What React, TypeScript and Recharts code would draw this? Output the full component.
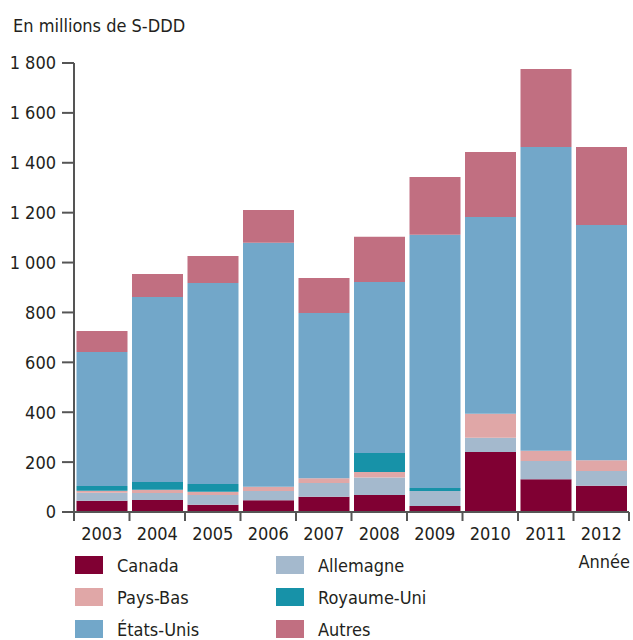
import React from 'react';
import { BarChart, Bar, XAxis, YAxis } from 'recharts';

const years = ['2003', '2004', '2005', '2006', '2007', '2008', '2009', '2010', '2011', '2012'];
const canada = [45, 48, 29, 47, 61, 68, 24, 241, 131, 105];
const allemagne = [32, 28, 39, 37, 55, 70, 60, 57, 73, 59];
const paysBas = [8, 13, 13, 17, 19, 22, 0, 96, 42, 43];
const royaumeUni = [19, 31, 31, 0, 0, 77, 12, 0, 0, 0];
const etatsUnis = [537, 742, 806, 978, 663, 685, 1015, 789, 1217, 944];
const autres = [85, 92, 108, 132, 140, 181, 232, 260, 313, 312];
const yTicks = [0, 200, 400, 600, 800, 1000, 1200, 1400, 1600, 1800];

const FONT = '"Liberation Sans Narrow", "DejaVu Sans Condensed", "Roboto", sans-serif';
const TEXT = '#231f20';
const AXIS = '#555555';
const FS = 18;

const series = [
  { key: 'canada', name: 'Canada', color: '#800033' },
  { key: 'allemagne', name: 'Allemagne', color: '#a4b9cd' },
  { key: 'paysBas', name: 'Pays-Bas', color: '#e0a7a7' },
  { key: 'royaumeUni', name: 'Royaume-Uni', color: '#1792a8' },
  { key: 'etatsUnis', name: 'États-Unis', color: '#72a7c9' },
  { key: 'autres', name: 'Autres', color: '#c16f81' },
];

// legend is filled column by column
const legendOrder = [
  ['canada', 'paysBas', 'etatsUnis'],
  ['allemagne', 'royaumeUni', 'autres'],
];

const data = years.map((year, i) => ({
  year,
  canada: canada[i],
  allemagne: allemagne[i],
  paysBas: paysBas[i],
  royaumeUni: royaumeUni[i],
  etatsUnis: etatsUnis[i],
  autres: autres[i],
}));

const W = 633;
const H = 640;
const margin = { top: 63, right: 4, bottom: 98, left: 8 };
const yAxisWidth = 66;
const band = (W - margin.left - margin.right - yAxisWidth) / years.length;

const formatThousands = (v: number) =>
  v >= 1000 ? `${Math.floor(v / 1000)} ${String(v % 1000).padStart(3, '0')}` : String(v);

const YearTick = (props: any) => {
  const { x, y, payload, index } = props;
  return (
    <g>
      <line x1={x - band / 2} x2={x - band / 2} y1={y} y2={y + 9} stroke={AXIS} strokeWidth={2} />
      {index === years.length - 1 && (
        <line x1={x + band / 2} x2={x + band / 2} y1={y} y2={y + 9} stroke={AXIS} strokeWidth={2} />
      )}
      <text x={x} y={y + 28} textAnchor="middle" fontSize={FS} fill={TEXT} fontFamily={FONT}>
        {payload.value}
      </text>
    </g>
  );
};

const LegendBox = () => (
  <div style={{ position: 'absolute', left: 75, top: 549, display: 'flex', fontFamily: FONT, fontSize: FS, color: TEXT }}>
    {legendOrder.map((col, ci) => (
      <div key={ci} style={{ width: 201 }}>
        {col.map((k) => {
          const s = series.find((it) => it.key === k)!;
          return (
            <div key={k} style={{ display: 'flex', alignItems: 'center', height: 32 }}>
              <span style={{ display: 'inline-block', width: 28, height: 18, background: s.color, marginRight: 14 }} />
              <span>{s.name}</span>
            </div>
          );
        })}
      </div>
    ))}
  </div>
);

export default function App() {
  return (
    <div style={{ position: 'absolute', left: 0, top: 0, width: W, height: H, background: '#fff' }}>
      <div style={{ position: 'absolute', left: 13, top: 15, fontFamily: FONT, fontSize: FS, color: TEXT }}>
        En millions de S-DDD
      </div>
      <BarChart width={W} height={H} data={data} margin={margin} barCategoryGap={2.5}>
        <XAxis
          dataKey="year"
          height={30}
          tick={<YearTick />}
          tickLine={false}
          tickSize={0}
          tickMargin={0}
          interval={0}
          axisLine={{ stroke: AXIS, strokeWidth: 2 }}
        />
        <YAxis
          width={yAxisWidth}
          domain={[0, 1800]}
          ticks={yTicks}
          interval={0}
          tickFormatter={formatThousands}
          tickSize={12}
          tickMargin={6}
          tick={{ fontSize: FS, fill: TEXT, fontFamily: FONT }}
          tickLine={{ stroke: AXIS, strokeWidth: 2 }}
          axisLine={{ stroke: AXIS, strokeWidth: 2 }}
        />
        {series.map((s) => (
          <Bar key={s.key} dataKey={s.key} name={s.name} stackId="a" fill={s.color} isAnimationActive={false} />
        ))}
      </BarChart>
      <LegendBox />
      <div style={{ position: 'absolute', right: 3, top: 551, fontFamily: FONT, fontSize: FS, color: TEXT }}>
        Année
      </div>
    </div>
  );
}
